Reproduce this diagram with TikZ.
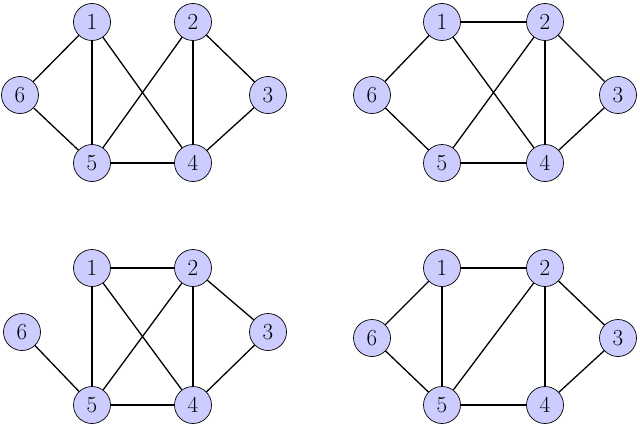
\documentclass[tikz,border=0pt]{standalone}
\begin{document}
\begin{tikzpicture}[x=1pt,y=-1pt,
  v/.style={circle,draw=black,line width=0.7pt,fill=blue!20,minimum size=37pt,inner sep=0pt,font=\fontsize{23}{23}\selectfont},
  e/.style={line width=1.3pt}]
\useasboundingbox (0,0) rectangle (640,431);
\newcommand{\gr}[6]{%
  \begin{scope}[shift={(#1)}]
  \node[v] (#2a) at (92,22) {1};
  \node[v] (#2b) at (#6,22) {2};
  \node[v] (#2c) at (268,#3) {3};
  \node[v] (#2d) at (#6,#4) {4};
  \node[v] (#2e) at (92,#4) {5};
  \node[v] (#2f) at (#5,#3) {6};
  \end{scope}}
\gr{0,0}{A}{95}{163}{20}{193}
\gr{350,0}{B}{95}{163}{22}{195}
\gr{0,246}{C}{86}{159}{22}{193}
\gr{350,246}{D}{92}{159}{22}{195}
\foreach \g/\es in {A/{a/f,a/e,a/d,b/e,b/d,b/c,c/d,d/e,e/f},
                    B/{a/b,a/f,a/d,b/e,b/d,b/c,c/d,d/e,e/f},
                    C/{a/b,a/e,a/d,b/e,b/d,b/c,c/d,d/e,e/f},
                    D/{a/b,a/f,a/e,b/e,b/d,b/c,c/d,d/e,e/f}}{
  \foreach \p/\q in \es { \draw[e] (\g\p) -- (\g\q); }
}
\end{tikzpicture}
\end{document}
